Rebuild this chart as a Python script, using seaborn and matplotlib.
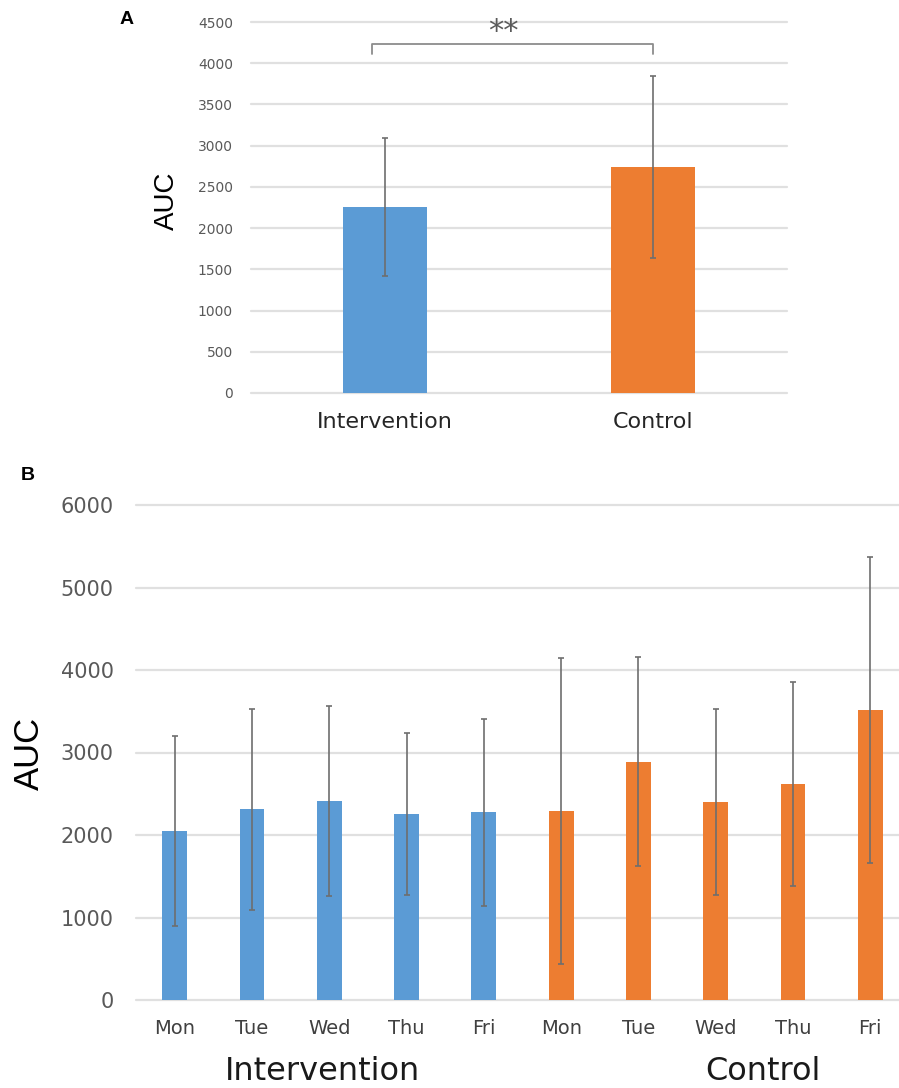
import numpy as np
import pandas as pd
import matplotlib
matplotlib.use("Agg")
import matplotlib.pyplot as plt
import matplotlib.transforms as mtransforms
import seaborn as sns

# ---- data -------------------------------------------------------------
groups = ["Intervention", "Control"]
overall_mean = [2260, 2745]
overall_sd = [836, 1102]

days = ["Mon", "Tue", "Wed", "Thu", "Fri"]
intervention_mean = [2050, 2310, 2415, 2255, 2275]
intervention_sd = [1150, 1220, 1150, 980, 1133]
control_mean = [2290, 2890, 2400, 2620, 3515]
control_sd = [1850, 1271, 1125, 1237, 1850]

colors = {"Intervention": "#5B9BD5", "Control": "#ED7D31"}
tick_gray = "#595959"
grid_gray = "#E0E0E0"
err_gray = "#6E6E6E"

sns.set_style("white")
plt.rcParams["font.family"] = ["DejaVu Sans"]

fig = plt.figure(figsize=(8.99, 10.88), dpi=100)
W, H = 899, 1088


def px_axes(left, top, right, bottom):
    return fig.add_axes([left / W, 1 - bottom / H, (right - left) / W, (bottom - top) / H])


def style_axes(ax, ymax, step, fs, pad):
    ax.set_ylim(0, ymax)
    ax.set_yticks(np.arange(0, ymax + 1, step))
    ax.grid(axis="y", color=grid_gray, linewidth=1.6)
    ax.grid(axis="x", visible=False)
    for gl in ax.get_ygridlines():
        gl.set_clip_on(False)
    ax.set_axisbelow(True)
    for s in ax.spines.values():
        s.set_visible(False)
    ax.tick_params(axis="y", length=0, labelsize=fs, labelcolor=tick_gray, pad=pad)
    ax.set_xlabel("")
    ax.set_ylabel("")


# ---- panel A ------------------------------------------------------------
axA = px_axes(251, 22, 787, 393)
dfA = pd.DataFrame({"group": groups, "auc": overall_mean})
sns.barplot(data=dfA, x="group", y="auc", hue="group", palette=colors,
            saturation=1, width=0.317, dodge=False, legend=False,
            linewidth=0, ax=axA)
axA.errorbar(np.arange(len(groups)), overall_mean, yerr=overall_sd, fmt="none",
             ecolor=err_gray, elinewidth=1.2, capsize=2, capthick=1.2)
style_axes(axA, 4500, 500, 10, 13)
axA.set_xlim(-0.5, 1.5)
axA.tick_params(axis="x", length=0, labelsize=16, labelcolor="#262626", pad=14)

# significance bracket
axA.plot([-0.05, -0.05, 1.0, 1.0], [4112, 4233, 4233, 4112],
         color="#8c8c8c", linewidth=1.3, solid_joinstyle="round")
axA.text(0.44, 4380, "**", ha="center", va="center", fontsize=22, color=tick_gray)

fig.text(167 / W, 1 - 201 / H, "AUC", rotation=90, ha="center", va="center",
         fontsize=20, family="Liberation Sans", color="black")
fig.text(127 / W, 1 - 19 / H, "A", ha="center", va="center", fontsize=14,
         fontweight="bold", family="Liberation Sans", color="black")

# ---- panel B ------------------------------------------------------------
axB = px_axes(136, 505, 909, 1000)
slots = [f"{g} {d}" for g in groups for d in days]
dfB = pd.DataFrame({
    "slot": slots,
    "group": [g for g in groups for _ in days],
    "auc": intervention_mean + control_mean,
})
sd_B = intervention_sd + control_sd
sns.barplot(data=dfB, x="slot", y="auc", hue="group", palette=colors,
            saturation=1, width=0.32, dodge=False, legend=False,
            linewidth=0, ax=axB)
axB.errorbar(np.arange(len(slots)), dfB["auc"], yerr=sd_B, fmt="none",
             ecolor=err_gray, elinewidth=1.2, capsize=2.5, capthick=1.2)
style_axes(axB, 6000, 1000, 15, 16)
axB.set_xlim(-0.5, len(slots) - 0.5)
axB.set_xticks(np.arange(len(slots)))
axB.set_xticklabels(days * 2)
axB.tick_params(axis="x", length=0, labelsize=14, labelcolor="#404040", pad=14)

trans = mtransforms.blended_transform_factory(axB.transData, fig.transFigure)
axB.text(1.91, 1 - 1072 / H, "Intervention", transform=trans, ha="center",
         va="center", fontsize=23, color="#1a1a1a")
axB.text(7.61, 1 - 1072 / H, "Control", transform=trans, ha="center",
         va="center", fontsize=23, color="#1a1a1a")

fig.text(29 / W, 1 - 753 / H, "AUC", rotation=90, ha="center", va="center",
         fontsize=25, family="Liberation Sans", color="black")
fig.text(28 / W, 1 - 475 / H, "B", ha="center", va="center", fontsize=14,
         fontweight="bold", family="Liberation Sans", color="black")

fig.savefig("out.png", dpi=100)
